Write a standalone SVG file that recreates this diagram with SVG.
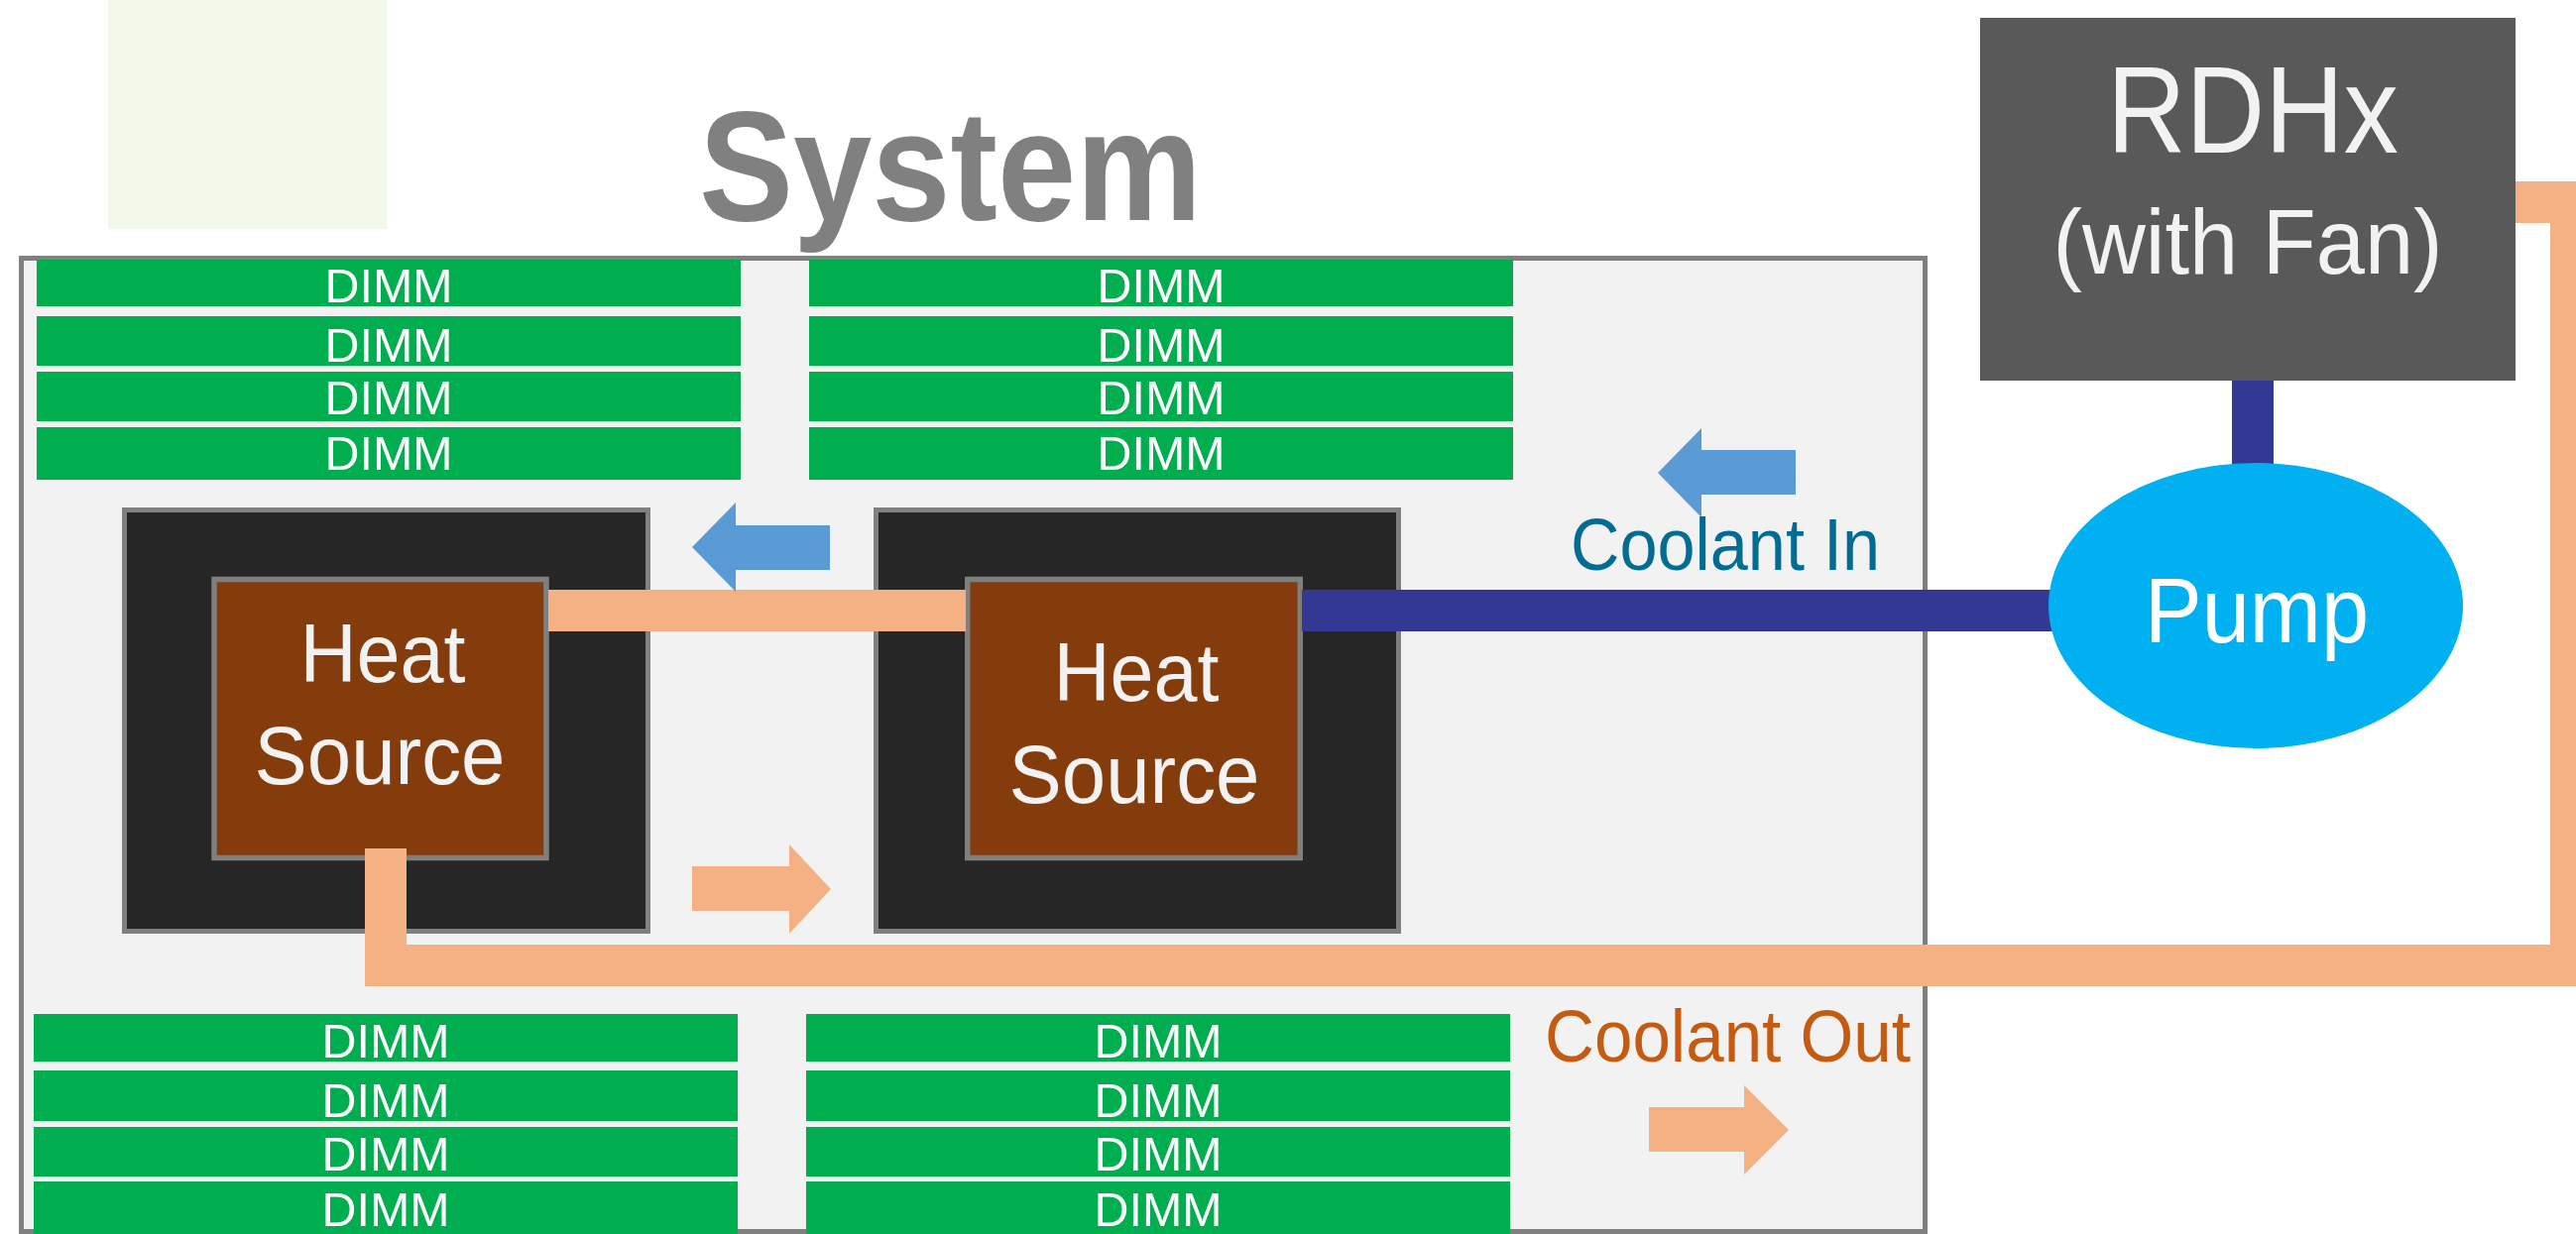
<svg xmlns="http://www.w3.org/2000/svg" width="2598" height="1245" viewBox="0 0 2598 1245">
  <style>
    .lbl { font-family: "Liberation Sans", Arial, sans-serif; }
    .dimm rect { fill: #00AE4F; }
    .dimm text { fill: #FFFFFF; font-size: 49px; text-anchor: middle; }
    .sink { fill: #262626; stroke: #808080; stroke-width: 5; }
    .src rect { fill: #843C0C; stroke: #7F7F7F; stroke-width: 5.5; }
    .src text { fill: #F2F2F2; font-size: 84px; text-anchor: middle; }
    .hot { fill: #F4B183; }
    .cold { fill: #333993; }
    .flow-in { fill: #5B9BD5; }
  </style>

  <!-- pale swatch in the corner -->
  <rect x="109" y="0" width="281" height="231" fill="#F2F8EA"/>

  <!-- system enclosure -->
  <g id="system">
    <rect x="21.5" y="260.5" width="1920" height="982" fill="#F2F2F2" stroke="#808080" stroke-width="5"/>
    <text class="lbl" x="705" y="222" font-size="158" font-weight="bold" fill="#808080" textLength="507" lengthAdjust="spacingAndGlyphs">System</text>
  </g>

  <!-- memory banks -->
  <g id="dimms-top-left" class="dimm lbl">
    <rect x="37" y="262" width="710" height="47"/><text x="392" y="305" textLength="129" lengthAdjust="spacingAndGlyphs">DIMM</text>
    <rect x="37" y="319" width="710" height="50"/><text x="392" y="365" textLength="129" lengthAdjust="spacingAndGlyphs">DIMM</text>
    <rect x="37" y="375" width="710" height="50"/><text x="392" y="418" textLength="129" lengthAdjust="spacingAndGlyphs">DIMM</text>
    <rect x="37" y="431" width="710" height="53"/><text x="392" y="474" textLength="129" lengthAdjust="spacingAndGlyphs">DIMM</text>
  </g>
  <g id="dimms-top-right" class="dimm lbl">
    <rect x="816" y="262" width="710" height="47"/><text x="1171" y="305" textLength="129" lengthAdjust="spacingAndGlyphs">DIMM</text>
    <rect x="816" y="319" width="710" height="50"/><text x="1171" y="365" textLength="129" lengthAdjust="spacingAndGlyphs">DIMM</text>
    <rect x="816" y="375" width="710" height="50"/><text x="1171" y="418" textLength="129" lengthAdjust="spacingAndGlyphs">DIMM</text>
    <rect x="816" y="431" width="710" height="53"/><text x="1171" y="474" textLength="129" lengthAdjust="spacingAndGlyphs">DIMM</text>
  </g>
  <g id="dimms-bottom-left" class="dimm lbl">
    <rect x="34" y="1023" width="710" height="48"/><text x="389" y="1067" textLength="129" lengthAdjust="spacingAndGlyphs">DIMM</text>
    <rect x="34" y="1080" width="710" height="51"/><text x="389" y="1127" textLength="129" lengthAdjust="spacingAndGlyphs">DIMM</text>
    <rect x="34" y="1137" width="710" height="50"/><text x="389" y="1181" textLength="129" lengthAdjust="spacingAndGlyphs">DIMM</text>
    <rect x="34" y="1192" width="710" height="53"/><text x="389" y="1237" textLength="129" lengthAdjust="spacingAndGlyphs">DIMM</text>
  </g>
  <g id="dimms-bottom-right" class="dimm lbl">
    <rect x="813" y="1023" width="710" height="48"/><text x="1168" y="1067" textLength="129" lengthAdjust="spacingAndGlyphs">DIMM</text>
    <rect x="813" y="1080" width="710" height="51"/><text x="1168" y="1127" textLength="129" lengthAdjust="spacingAndGlyphs">DIMM</text>
    <rect x="813" y="1137" width="710" height="50"/><text x="1168" y="1181" textLength="129" lengthAdjust="spacingAndGlyphs">DIMM</text>
    <rect x="813" y="1192" width="710" height="53"/><text x="1168" y="1237" textLength="129" lengthAdjust="spacingAndGlyphs">DIMM</text>
  </g>

  <!-- cold plates -->
  <g id="coldplate-left">
    <rect class="sink" x="125.5" y="514.5" width="528" height="425"/>
  </g>
  <g id="coldplate-right">
    <rect class="sink" x="883.5" y="514.5" width="527" height="425"/>
  </g>

  <!-- heat sources -->
  <g id="heat-source-left" class="src lbl">
    <rect x="216" y="584.5" width="335" height="281"/>
    <text x="386" y="688" textLength="167" lengthAdjust="spacingAndGlyphs">Heat</text>
    <text x="383" y="791" textLength="253" lengthAdjust="spacingAndGlyphs">Source</text>
  </g>
  <g id="heat-source-right" class="src lbl">
    <rect x="975.75" y="584.5" width="335.5" height="281"/>
    <text x="1146" y="707" textLength="167" lengthAdjust="spacingAndGlyphs">Heat</text>
    <text x="1144" y="810" textLength="253" lengthAdjust="spacingAndGlyphs">Source</text>
  </g>

  <!-- coolant piping -->
  <g id="connectors">
    <rect class="hot" x="553" y="595" width="421" height="42"/>
    <polyline points="389,856 389,974 2593,974 2593,204 2537,204" fill="none" stroke="#F4B183" stroke-width="42" stroke-linejoin="miter"/>
    <rect class="cold" x="1313" y="595" width="760" height="42"/>
    <rect class="cold" x="2251" y="380" width="42" height="100"/>
  </g>

  <!-- flow direction arrows -->
  <g id="flow-arrows">
    <polygon class="flow-in" points="698,552 742,507 742,530 837,530 837,575 742,575 742,597"/>
    <polygon class="flow-in" points="1672,477 1716,432 1716,454 1811,454 1811,499 1716,499 1716,522"/>
    <polygon class="hot" points="838,897 796,852 796,874 698,874 698,919 796,919 796,942"/>
    <polygon class="hot" points="1804,1140 1759,1095 1759,1117 1663,1117 1663,1162 1759,1162 1759,1185"/>
  </g>

  <g id="label-coolant-in">
    <text class="lbl" x="1584" y="575" font-size="74" fill="#036C93" textLength="312" lengthAdjust="spacingAndGlyphs">Coolant In</text>
  </g>
  <g id="label-coolant-out">
    <text class="lbl" x="1558" y="1071" font-size="74" fill="#C55A11" textLength="369" lengthAdjust="spacingAndGlyphs">Coolant Out</text>
  </g>

  <!-- rear door heat exchanger -->
  <g id="rdhx">
    <rect x="1997" y="18" width="540" height="366" fill="#595959"/>
    <text class="lbl" x="2272" y="154" font-size="125" fill="#F2F2F2" text-anchor="middle" textLength="294" lengthAdjust="spacingAndGlyphs">RDHx</text>
    <text class="lbl" x="2267" y="276" font-size="92" fill="#F2F2F2" text-anchor="middle" textLength="393" lengthAdjust="spacingAndGlyphs">(with Fan)</text>
  </g>

  <!-- pump -->
  <g id="pump">
    <ellipse cx="2275" cy="611" rx="209" ry="144" fill="#00B0F0"/>
    <text class="lbl" x="2276" y="648" font-size="93" fill="#FFFFFF" text-anchor="middle" textLength="226" lengthAdjust="spacingAndGlyphs">Pump</text>
  </g>
</svg>
